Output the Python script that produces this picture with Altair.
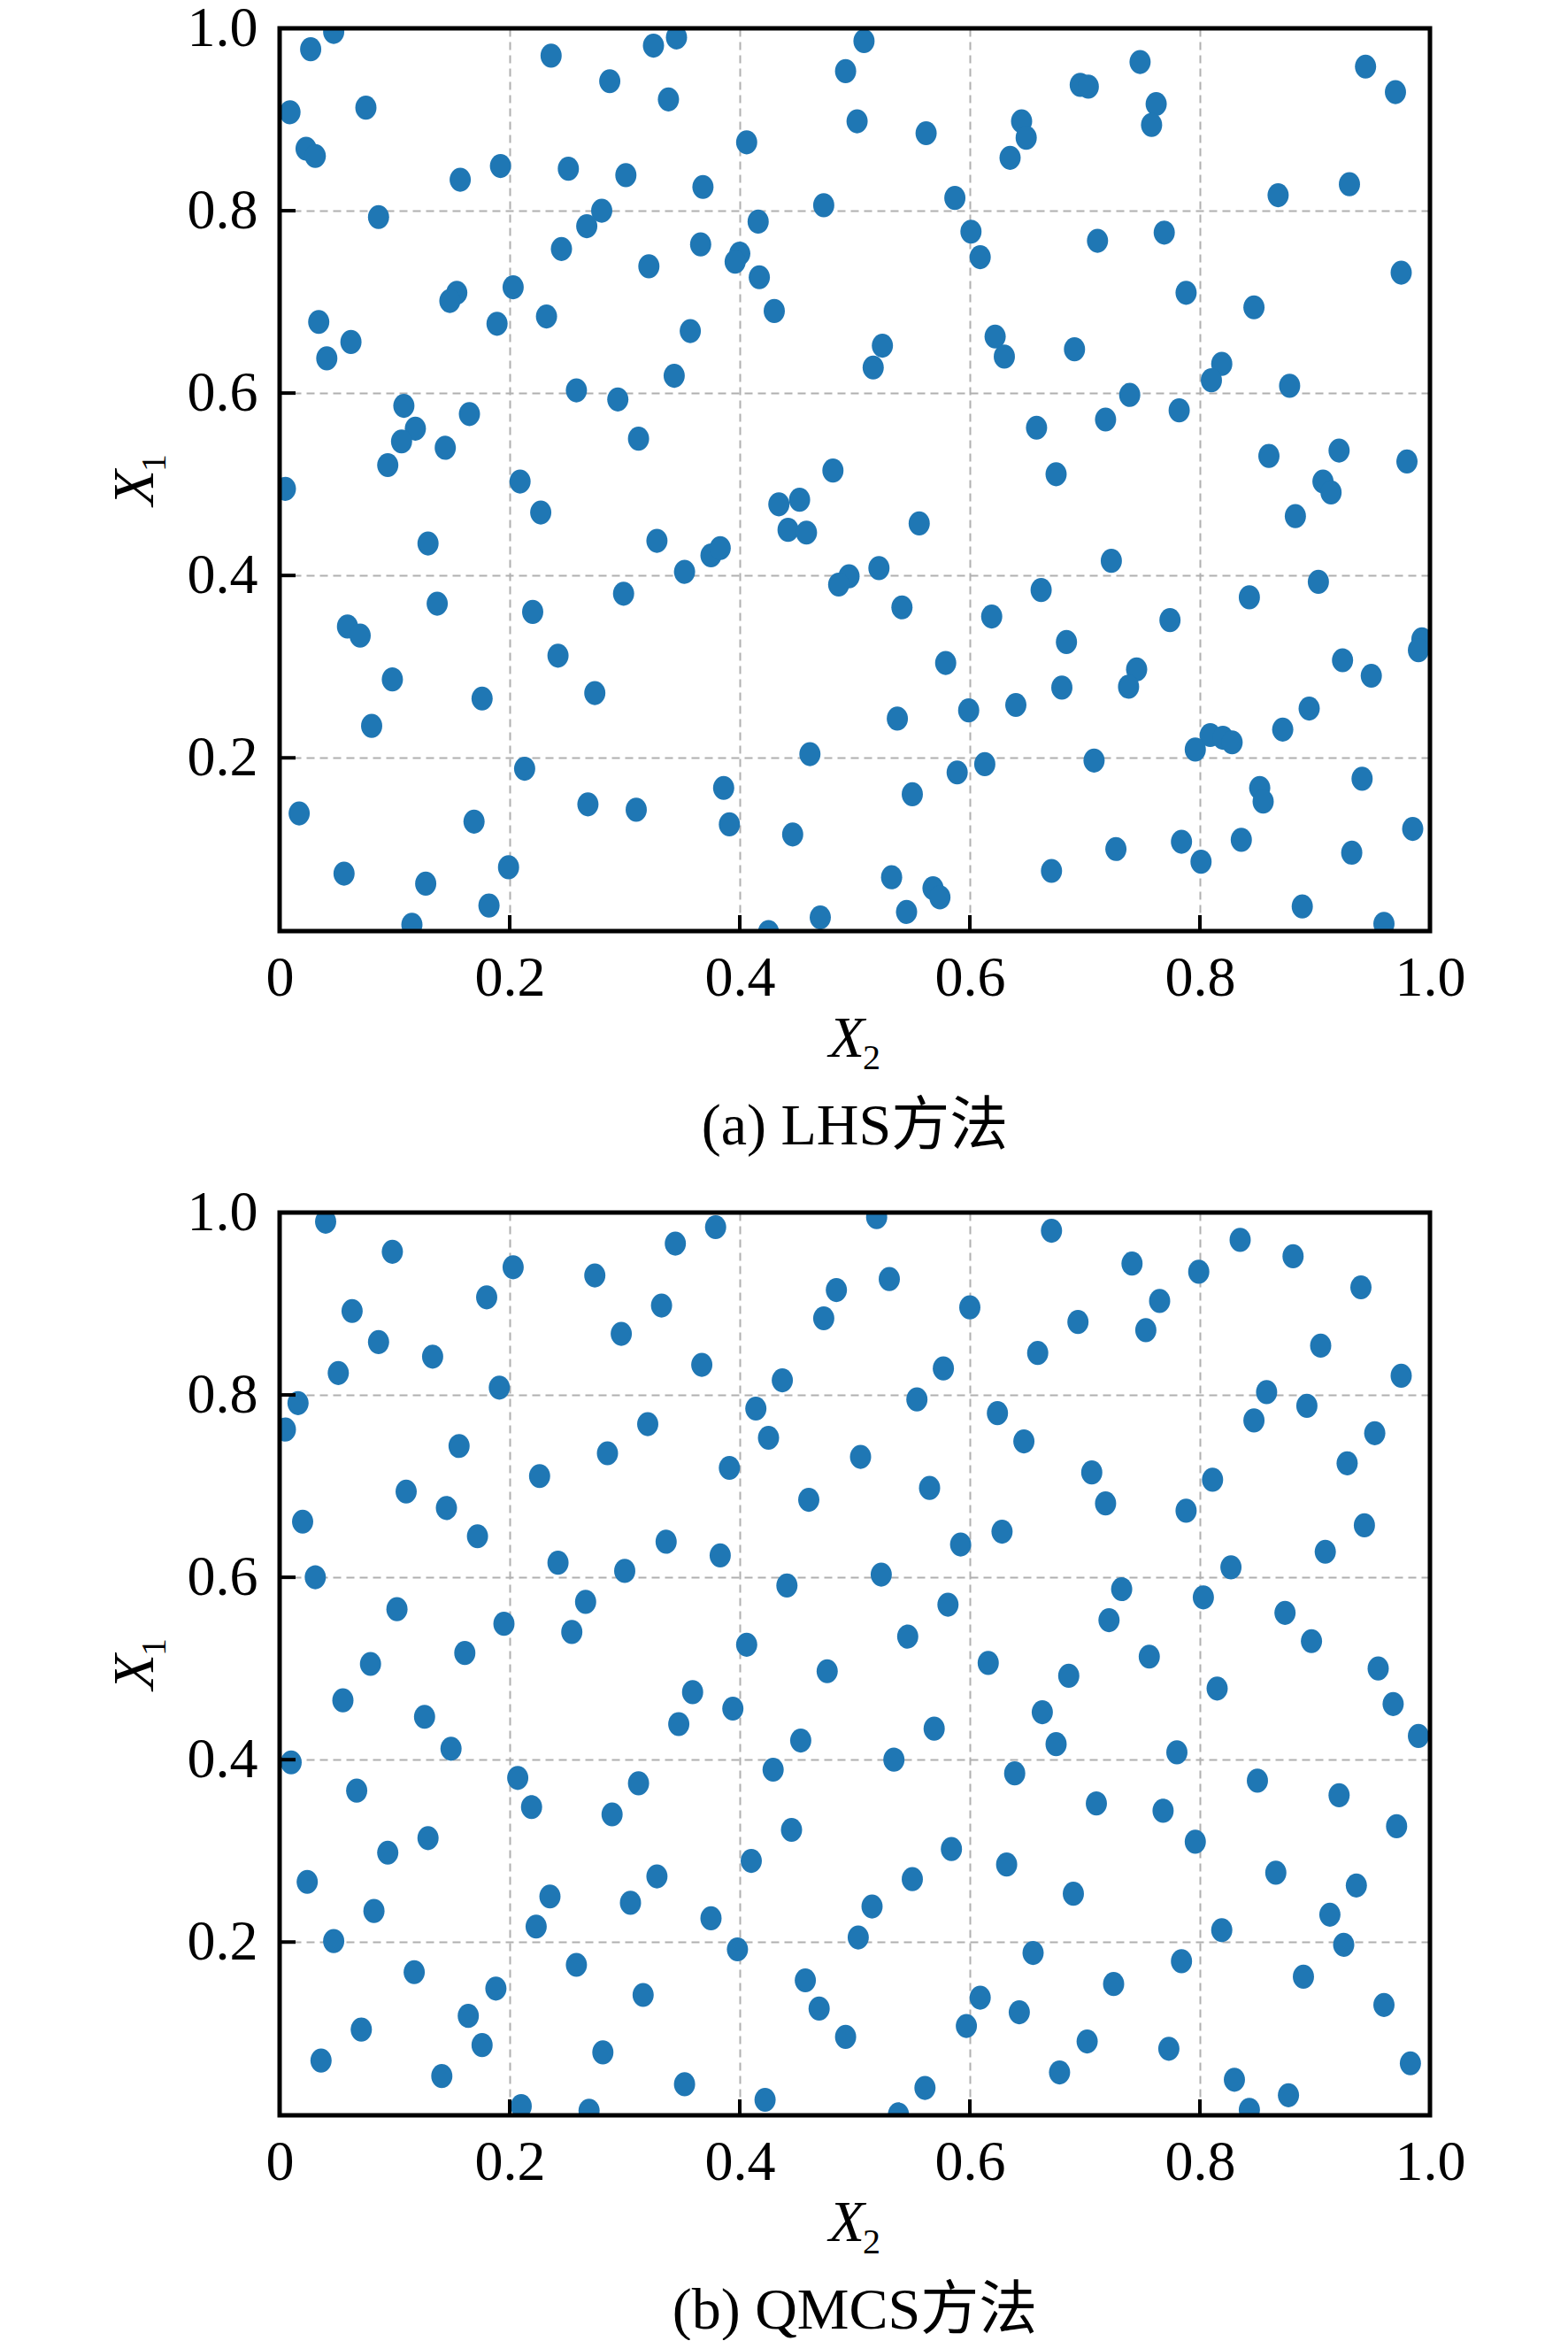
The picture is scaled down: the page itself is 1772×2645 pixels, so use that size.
import altair as alt
import pandas as pd

# (a) LHS samples: horizontal axis X2, vertical axis X1
lhs_x2 = [0.047, 0.027, 0.236, 0.325, 0.345, 0.508, 0.492, 0.287, 0.338, 0.009,
          0.075, 0.502, 0.023, 0.031, 0.406, 0.157, 0.192, 0.251, 0.301, 0.368,
          0.473, 0.086, 0.280, 0.267, 0.245, 0.416, 0.366, 0.400, 0.396, 0.321,
          0.417, 0.203, 0.154, 0.148, 0.430, 0.034, 0.232, 0.189, 0.357, 0.062,
          0.041, 0.516, 0.343, 0.258, 0.294, 0.108, 0.118, 0.106, 0.165, 0.144,
          0.312, 0.094, 0.481, 0.209, 0.005,
          0.227, 0.129, 0.328, 0.434, 0.452, 0.442, 0.458, 0.375, 0.383, 0.352,
          0.495, 0.486, 0.299, 0.137, 0.220, 0.059, 0.070, 0.242, 0.098, 0.176,
          0.274, 0.080, 0.461, 0.213, 0.386, 0.268, 0.310, 0.017, 0.169, 0.391,
          0.446, 0.199, 0.056, 0.127, 0.182, 0.470, 0.115, 0.425,
          0.562, 0.587, 0.645, 0.649, 0.635, 0.696, 0.703, 0.748, 0.762, 0.758,
          0.944, 0.970, 0.868, 0.930, 0.601, 0.609, 0.711, 0.769, 0.788, 0.847,
          0.975, 0.524, 0.622, 0.630, 0.691, 0.819, 0.810, 0.878, 0.739, 0.718,
          0.782, 0.658, 0.675, 0.860, 0.921, 0.980, 0.907, 0.914,
          0.556, 0.883, 0.521, 0.723, 0.903, 0.662, 0.541, 0.619, 0.843, 0.774,
          0.684, 0.579, 0.745, 0.738, 0.680, 0.924, 0.949, 0.993, 0.990, 0.537,
          0.599, 0.640, 0.872, 0.895, 0.809, 0.820, 0.828, 0.796, 0.708, 0.589,
          0.613, 0.550, 0.941, 0.852, 0.855, 0.985, 0.727, 0.784, 0.801, 0.836,
          0.932, 0.671, 0.532, 0.568, 0.574, 0.545, 0.889, 0.960]
lhs_x1 = [0.996, 0.977, 0.970, 0.981, 0.990, 0.986, 0.953, 0.942, 0.922, 0.908,
          0.913, 0.898, 0.868, 0.860, 0.875, 0.834, 0.849, 0.846, 0.839, 0.826,
          0.806, 0.793, 0.800, 0.783, 0.758, 0.788, 0.763, 0.753, 0.744, 0.739,
          0.727, 0.716, 0.710, 0.701, 0.690, 0.678, 0.684, 0.676, 0.668, 0.656,
          0.638, 0.628, 0.619, 0.603, 0.593, 0.586, 0.561, 0.547, 0.577, 0.540,
          0.550, 0.521, 0.515, 0.503, 0.495,
          0.469, 0.435, 0.438, 0.478, 0.483, 0.450, 0.447, 0.422, 0.430, 0.404,
          0.399, 0.390, 0.380, 0.369, 0.360, 0.344, 0.334, 0.312, 0.286, 0.265,
          0.271, 0.235, 0.204, 0.188, 0.167, 0.149, 0.143, 0.139, 0.130, 0.127,
          0.116, 0.080, 0.073, 0.062, 0.038, 0.025, 0.017, 0.009,
          0.885, 0.814, 0.898, 0.880, 0.858, 0.938, 0.936, 0.963, 0.917, 0.894,
          0.958, 0.930, 0.817, 0.829, 0.777, 0.749, 0.767, 0.776, 0.710, 0.694,
          0.732, 0.652, 0.662, 0.640, 0.648, 0.632, 0.614, 0.608, 0.598, 0.571,
          0.581, 0.562, 0.511, 0.531, 0.537, 0.525, 0.503, 0.491,
          0.457, 0.465, 0.408, 0.416, 0.393, 0.384, 0.365, 0.355, 0.376, 0.351,
          0.327, 0.304, 0.297, 0.278, 0.277, 0.307, 0.290, 0.330, 0.318, 0.243,
          0.252, 0.258, 0.231, 0.254, 0.225, 0.222, 0.217, 0.209, 0.197, 0.184,
          0.193, 0.160, 0.177, 0.167, 0.152, 0.122, 0.100, 0.108, 0.086, 0.110,
          0.096, 0.076, 0.069, 0.057, 0.047, 0.031, 0.037, 0.018]

# (b) QMCS samples
qmcs_x2 = [0.040, 0.098, 0.203, 0.274, 0.344, 0.379, 0.180, 0.063, 0.332, 0.297,
           0.484, 0.473, 0.086, 0.133, 0.051, 0.367, 0.437, 0.191, 0.016, 0.005,
           0.414, 0.320, 0.425, 0.156, 0.285, 0.505, 0.391, 0.226, 0.110, 0.145,
           0.460, 0.020, 0.172, 0.336, 0.383, 0.242, 0.300, 0.031, 0.441, 0.102,
           0.266, 0.195, 0.254, 0.161, 0.406, 0.079, 0.476,
           0.519, 0.671, 0.835, 0.881, 0.741, 0.799, 0.940, 0.530, 0.600, 0.765,
           0.694, 0.753, 0.659, 0.905, 0.577, 0.975, 0.554, 0.858, 0.893, 0.624,
           0.847, 0.952, 0.647, 0.928, 0.706, 0.811, 0.565, 0.718, 0.788, 0.943,
           0.628, 0.592, 0.909, 0.827, 0.523, 0.732, 0.803, 0.581, 0.874, 0.721,
           0.546, 0.897, 0.616, 0.756, 0.686, 0.955,
           0.055, 0.359, 0.394, 0.126, 0.347, 0.453, 0.149, 0.010, 0.429, 0.207,
           0.312, 0.067, 0.219, 0.289, 0.445, 0.129, 0.094, 0.410, 0.328, 0.024,
           0.235, 0.305, 0.082, 0.375, 0.223, 0.047, 0.398, 0.503, 0.258, 0.117,
           0.457, 0.188, 0.316, 0.469, 0.164, 0.071, 0.492, 0.176, 0.281, 0.036,
           0.141, 0.352, 0.422, 0.210, 0.269,
           0.815, 0.968, 0.663, 0.569, 0.675, 0.990, 0.534, 0.780, 0.639, 0.850,
           0.921, 0.710, 0.768, 0.971, 0.796, 0.584, 0.632, 0.866, 0.550, 0.936,
           0.690, 0.515, 0.913, 0.819, 0.925, 0.655, 0.784, 0.890, 0.725, 0.609,
           0.643, 0.960, 0.597, 0.702, 0.773, 0.983, 0.678, 0.830, 0.561, 0.877,
           0.843, 0.538]
qmcs_x1 = [0.990, 0.957, 0.940, 0.931, 0.966, 0.984, 0.907, 0.892, 0.898, 0.867,
           0.915, 0.884, 0.858, 0.842, 0.824, 0.833, 0.816, 0.808, 0.791, 0.762,
           0.785, 0.768, 0.753, 0.744, 0.736, 0.732, 0.720, 0.711, 0.694, 0.676,
           0.685, 0.661, 0.645, 0.639, 0.624, 0.616, 0.607, 0.600, 0.591, 0.565,
           0.573, 0.549, 0.540, 0.517, 0.526, 0.505, 0.497,
           0.995, 0.980, 0.970, 0.952, 0.944, 0.935, 0.918, 0.927, 0.896, 0.903,
           0.880, 0.871, 0.846, 0.854, 0.829, 0.821, 0.795, 0.803, 0.788, 0.780,
           0.772, 0.758, 0.749, 0.725, 0.715, 0.707, 0.698, 0.681, 0.673, 0.657,
           0.650, 0.636, 0.628, 0.611, 0.603, 0.587, 0.578, 0.570, 0.561, 0.553,
           0.535, 0.530, 0.506, 0.513, 0.492, 0.500,
           0.465, 0.474, 0.456, 0.447, 0.439, 0.421, 0.412, 0.397, 0.389, 0.380,
           0.374, 0.366, 0.348, 0.340, 0.323, 0.314, 0.298, 0.289, 0.272, 0.266,
           0.250, 0.243, 0.234, 0.226, 0.217, 0.201, 0.192, 0.205, 0.175, 0.167,
           0.158, 0.149, 0.142, 0.127, 0.119, 0.104, 0.096, 0.087, 0.079, 0.070,
           0.053, 0.044, 0.027, 0.020, 0.015,
           0.478, 0.461, 0.452, 0.434, 0.417, 0.426, 0.400, 0.408, 0.385, 0.377,
           0.361, 0.352, 0.344, 0.327, 0.310, 0.302, 0.285, 0.276, 0.269, 0.262,
           0.253, 0.239, 0.230, 0.213, 0.197, 0.188, 0.179, 0.162, 0.154, 0.139,
           0.123, 0.131, 0.108, 0.091, 0.083, 0.067, 0.057, 0.049, 0.040, 0.032,
           0.016, 0.011]

x_ticks = [0, 0.2, 0.4, 0.6, 0.8, 1.0]
y_ticks = [0.2, 0.4, 0.6, 0.8, 1.0]
captions = ["(a) LHS方法", "(b) QMCS方法"]

W, H = 1300, 1020
FONT = "Liberation Serif, Noto Sans CJK SC"
BLUE = "#1f77b4"
# the markers in the figure are a little taller than wide
DOT = "M-0.88,0A0.88,1,0,1,0,0.88,0A0.88,1,0,1,0,-0.88,0Z"

xs = alt.Scale(domain=[0, 1], nice=False, zero=False)
ys = alt.Scale(domain=[0.01, 1], nice=False, zero=False)
x_axis = alt.Axis(values=x_ticks, labelPadding=21,
                  labelExpr="datum.value == 0 ? '0' : format(datum.value, '.1f')")
y_axis = alt.Axis(values=y_ticks, format=".1f", labelPadding=25)
one = pd.DataFrame({"t": [""]})


def label(text, size, x, y, angle=0, align="center", italic=False):
    return alt.Chart(pd.DataFrame({"t": [text]})).mark_text(
        font=FONT, fontSize=size, fontStyle="italic" if italic else "normal",
        color="black", align=align, baseline="alphabetic", angle=angle
    ).encode(text="t:N", x=alt.value(x), y=alt.value(y))


def panel(x2, x1, caption):
    dots = alt.Chart(pd.DataFrame({"x2": x2, "x1": x1})).mark_point(
        shape=DOT, filled=True, size=740, color=BLUE, opacity=1,
        strokeWidth=0, clip=True
    ).encode(
        x=alt.X("x2:Q", scale=xs, title=None, axis=x_axis),
        y=alt.Y("x1:Q", scale=ys, title=None, axis=y_axis),
    )
    # inward ticks on the bottom and left sides
    xt = alt.Chart(pd.DataFrame({"x2": x_ticks})).mark_rule(
        color="black", strokeWidth=4
    ).encode(x=alt.X("x2:Q", scale=xs, title=None, axis=x_axis),
             y=alt.value(H - 18), y2=alt.value(H))
    yt = alt.Chart(pd.DataFrame({"x1": y_ticks})).mark_rule(
        color="black", strokeWidth=4
    ).encode(y=alt.Y("x1:Q", scale=ys, title=None, axis=y_axis),
             x=alt.value(0), x2=alt.value(18))
    # frame on top of grid and markers
    frame = alt.Chart(one).mark_rect(
        fillOpacity=0, stroke="black", strokeWidth=5
    ).encode(x=alt.value(0), x2=alt.value(W), y=alt.value(0), y2=alt.value(H))
    texts = [
        label("X", 66, 641, H + 142, italic=True),
        label("2", 40, 659, H + 156, align="left"),
        label("X", 66, -143, 519, angle=270, italic=True),
        label("1", 40, -129, 501, angle=270, align="left"),
        label(caption, 66, 650, H + 241),
    ]
    return alt.layer(dots, xt, yt, frame, *texts).properties(width=W, height=H)


chart = alt.vconcat(
    panel(lhs_x2, lhs_x1, captions[0]),
    panel(qmcs_x2, qmcs_x1, captions[1]),
    spacing=318, bounds="flush"
).configure_view(
    strokeWidth=0
).configure_axis(
    domain=False, ticks=False, tickSize=0,
    labelFont="Liberation Serif", labelFontSize=64, labelColor="black",
    labelFlush=False, labelOverlap=False,
    grid=True, gridColor="#b0b0b0", gridDash=[9, 6], gridWidth=2
).properties(
    padding={"left": 112, "top": -8, "right": 20, "bottom": 0},
    background="white"
)

chart.save("out.html", embed_options={"renderer": "svg", "actions": False})
